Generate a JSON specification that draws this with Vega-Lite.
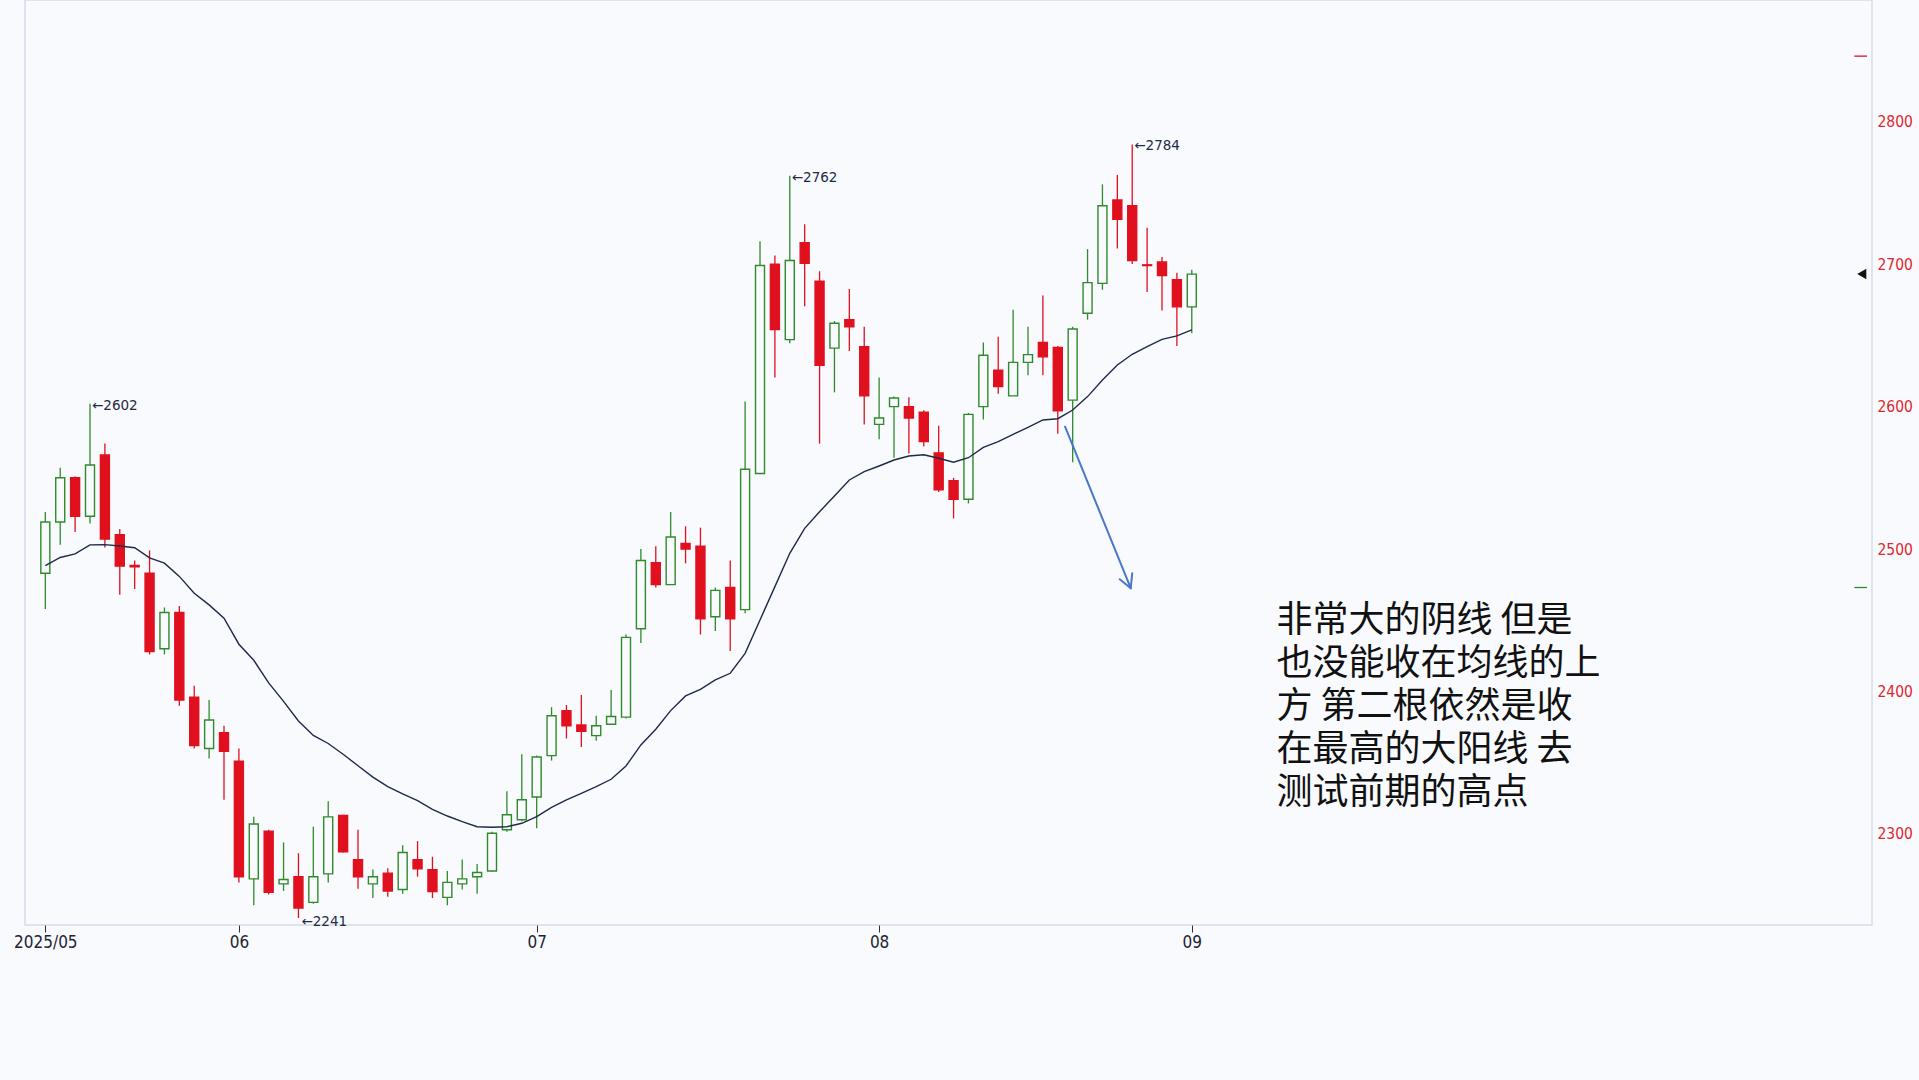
{
  "$schema": "https://vega.github.io/schema/vega-lite/v6.json",
  "width": 1847,
  "height": 925,
  "autosize": {"type": "none"},
  "padding": {"left": 25, "top": 0, "right": 47, "bottom": 155},
  "background": "#f8fafd",
  "config": {
    "view": {"fill": "#f8fafd", "stroke": "#d3dbec", "strokeWidth": 1.5},
    "axis": {"grid": false, "title": null, "domain": false},
    "axisX": {"ticks": true, "tickColor": "#2a2f3a", "tickSize": 7, "tickWidth": 1, "labelFont": "DejaVu Sans Condensed, Noto Sans", "labelFontSize": 17, "labelColor": "#1e2433", "labelPadding": 2},
    "axisY": {"ticks": false, "labelFont": "DejaVu Sans Condensed, Noto Sans", "labelFontSize": 15.5, "labelColor": "#e0262e", "labelPadding": 5}
  },
  "datasets": {
    "k": [
      {"d": "2025-05-14", "o": 2483, "h": 2526, "l": 2458, "c": 2519, "ma": 2488.3},
      {"d": "2025-05-15", "o": 2519, "h": 2557, "l": 2503, "c": 2550, "ma": 2494.1},
      {"d": "2025-05-16", "o": 2550, "h": 2551, "l": 2512, "c": 2523, "ma": 2496.6},
      {"d": "2025-05-19", "o": 2523, "h": 2602, "l": 2518, "c": 2559, "ma": 2502.9},
      {"d": "2025-05-20", "o": 2566, "h": 2574, "l": 2501, "c": 2507, "ma": 2503.1},
      {"d": "2025-05-21", "o": 2510, "h": 2514, "l": 2468, "c": 2488, "ma": 2502.1},
      {"d": "2025-05-22", "o": 2488.5, "h": 2492, "l": 2472, "c": 2487.5, "ma": 2500.9},
      {"d": "2025-05-23", "o": 2483, "h": 2499, "l": 2426, "c": 2428, "ma": 2493.8},
      {"d": "2025-05-26", "o": 2430, "h": 2459, "l": 2426, "c": 2455.5, "ma": 2490.1},
      {"d": "2025-05-27", "o": 2455.5, "h": 2460, "l": 2390, "c": 2394, "ma": 2480.8},
      {"d": "2025-05-28", "o": 2396, "h": 2404, "l": 2360, "c": 2362, "ma": 2469.0},
      {"d": "2025-05-29", "o": 2360, "h": 2394, "l": 2353, "c": 2380, "ma": 2460.8},
      {"d": "2025-05-30", "o": 2371, "h": 2376, "l": 2324, "c": 2358, "ma": 2451.5},
      {"d": "2025-06-03", "o": 2351, "h": 2360, "l": 2266, "c": 2270, "ma": 2433.2},
      {"d": "2025-06-04", "o": 2268.5, "h": 2312, "l": 2250, "c": 2307, "ma": 2421.9},
      {"d": "2025-06-05", "o": 2302, "h": 2303, "l": 2257.5, "c": 2259, "ma": 2406.1},
      {"d": "2025-06-06", "o": 2265, "h": 2294, "l": 2260, "c": 2268, "ma": 2393.1},
      {"d": "2025-06-09", "o": 2270, "h": 2286.5, "l": 2241, "c": 2248, "ma": 2379.3},
      {"d": "2025-06-10", "o": 2252, "h": 2305, "l": 2251, "c": 2270, "ma": 2369.2},
      {"d": "2025-06-11", "o": 2272, "h": 2323, "l": 2266, "c": 2312, "ma": 2363.5},
      {"d": "2025-06-12", "o": 2313, "h": 2313.5, "l": 2287, "c": 2287.5, "ma": 2356.0},
      {"d": "2025-06-13", "o": 2282, "h": 2303, "l": 2261.5, "c": 2270, "ma": 2347.9},
      {"d": "2025-06-16", "o": 2265, "h": 2275, "l": 2255, "c": 2270, "ma": 2339.9},
      {"d": "2025-06-17", "o": 2272.5, "h": 2276, "l": 2256, "c": 2260, "ma": 2333.3},
      {"d": "2025-06-18", "o": 2261, "h": 2292, "l": 2258, "c": 2287, "ma": 2328.2},
      {"d": "2025-06-19", "o": 2282, "h": 2295, "l": 2270, "c": 2275.5, "ma": 2323.4},
      {"d": "2025-06-20", "o": 2275, "h": 2284, "l": 2255, "c": 2259.5, "ma": 2317.3},
      {"d": "2025-06-23", "o": 2255.5, "h": 2274, "l": 2250, "c": 2266, "ma": 2312.6},
      {"d": "2025-06-24", "o": 2265, "h": 2282, "l": 2261, "c": 2268.5, "ma": 2308.7},
      {"d": "2025-06-25", "o": 2270, "h": 2279, "l": 2258, "c": 2273, "ma": 2305.1},
      {"d": "2025-06-26", "o": 2274, "h": 2301.5, "l": 2273.5, "c": 2300.5, "ma": 2304.7},
      {"d": "2025-06-27", "o": 2303, "h": 2330, "l": 2301.5, "c": 2313.5, "ma": 2305.1},
      {"d": "2025-06-30", "o": 2310, "h": 2356, "l": 2309, "c": 2324, "ma": 2307.5},
      {"d": "2025-07-01", "o": 2326, "h": 2355, "l": 2304, "c": 2354, "ma": 2312.2},
      {"d": "2025-07-02", "o": 2355, "h": 2389, "l": 2351.5, "c": 2383, "ma": 2318.7},
      {"d": "2025-07-03", "o": 2386.5, "h": 2390.5, "l": 2367, "c": 2376, "ma": 2323.9},
      {"d": "2025-07-04", "o": 2376.5, "h": 2397.5, "l": 2361, "c": 2372, "ma": 2328.5},
      {"d": "2025-07-07", "o": 2369, "h": 2383, "l": 2365.5, "c": 2376, "ma": 2333.2},
      {"d": "2025-07-08", "o": 2377, "h": 2401, "l": 2376.5, "c": 2382.5, "ma": 2338.4},
      {"d": "2025-07-09", "o": 2382, "h": 2440, "l": 2381, "c": 2438, "ma": 2347.7},
      {"d": "2025-07-10", "o": 2444, "h": 2500, "l": 2434, "c": 2492, "ma": 2362.5},
      {"d": "2025-07-11", "o": 2490.5, "h": 2502, "l": 2473, "c": 2475, "ma": 2373.5},
      {"d": "2025-07-14", "o": 2475, "h": 2526, "l": 2475, "c": 2508.5, "ma": 2386.6},
      {"d": "2025-07-15", "o": 2504, "h": 2516, "l": 2490, "c": 2500, "ma": 2396.9},
      {"d": "2025-07-16", "o": 2502, "h": 2515, "l": 2440, "c": 2451, "ma": 2401.5},
      {"d": "2025-07-17", "o": 2452.5, "h": 2473, "l": 2442.5, "c": 2471, "ma": 2408.1},
      {"d": "2025-07-18", "o": 2473, "h": 2492, "l": 2428.5, "c": 2451, "ma": 2412.8},
      {"d": "2025-07-21", "o": 2457.5, "h": 2603.5, "l": 2455, "c": 2556, "ma": 2426.8},
      {"d": "2025-07-22", "o": 2553, "h": 2716, "l": 2552.5, "c": 2699, "ma": 2450.2},
      {"d": "2025-07-23", "o": 2700, "h": 2706, "l": 2620.5, "c": 2654, "ma": 2473.6},
      {"d": "2025-07-24", "o": 2647, "h": 2762, "l": 2644.5, "c": 2702.5, "ma": 2497.0},
      {"d": "2025-07-25", "o": 2715, "h": 2728, "l": 2670.5, "c": 2700.5, "ma": 2514.5},
      {"d": "2025-07-28", "o": 2688, "h": 2695, "l": 2574, "c": 2629, "ma": 2526.2},
      {"d": "2025-07-29", "o": 2641, "h": 2660, "l": 2610, "c": 2658.5, "ma": 2537.2},
      {"d": "2025-07-30", "o": 2661, "h": 2682.5, "l": 2639, "c": 2656, "ma": 2548.5},
      {"d": "2025-07-31", "o": 2642, "h": 2656, "l": 2587.5, "c": 2607.5, "ma": 2554.3},
      {"d": "2025-08-01", "o": 2587.5, "h": 2620.5, "l": 2577, "c": 2592, "ma": 2558.3},
      {"d": "2025-08-04", "o": 2600, "h": 2607, "l": 2564, "c": 2606, "ma": 2562.5},
      {"d": "2025-08-05", "o": 2600, "h": 2606.5, "l": 2567, "c": 2592, "ma": 2565.3},
      {"d": "2025-08-06", "o": 2596, "h": 2597.5, "l": 2572, "c": 2575.5, "ma": 2566.2},
      {"d": "2025-08-07", "o": 2567.5, "h": 2586.5, "l": 2540, "c": 2541.5, "ma": 2563.7},
      {"d": "2025-08-08", "o": 2548, "h": 2550, "l": 2521.5, "c": 2535, "ma": 2560.9},
      {"d": "2025-08-11", "o": 2535, "h": 2595.5, "l": 2532, "c": 2594.5, "ma": 2564.1},
      {"d": "2025-08-12", "o": 2600, "h": 2645, "l": 2591, "c": 2636, "ma": 2571.4},
      {"d": "2025-08-13", "o": 2625.5, "h": 2649, "l": 2609, "c": 2614, "ma": 2575.4},
      {"d": "2025-08-14", "o": 2607.5, "h": 2668, "l": 2607.5, "c": 2631, "ma": 2580.5},
      {"d": "2025-08-15", "o": 2631, "h": 2656, "l": 2622, "c": 2636.5, "ma": 2585.4},
      {"d": "2025-08-18", "o": 2645, "h": 2678, "l": 2622, "c": 2635, "ma": 2590.6},
      {"d": "2025-08-19", "o": 2641.5, "h": 2642.5, "l": 2581, "c": 2597, "ma": 2591.5},
      {"d": "2025-08-20", "o": 2604.5, "h": 2656, "l": 2561, "c": 2654.5, "ma": 2597.6},
      {"d": "2025-08-21", "o": 2665.5, "h": 2710.5, "l": 2661, "c": 2687, "ma": 2607.0},
      {"d": "2025-08-22", "o": 2686.5, "h": 2756, "l": 2682, "c": 2741, "ma": 2618.7},
      {"d": "2025-08-25", "o": 2745, "h": 2762.5, "l": 2711, "c": 2731.5, "ma": 2629.2},
      {"d": "2025-08-26", "o": 2741, "h": 2784, "l": 2700, "c": 2702.5, "ma": 2636.7},
      {"d": "2025-08-27", "o": 2699.5, "h": 2725.5, "l": 2680.5, "c": 2699, "ma": 2642.1},
      {"d": "2025-08-28", "o": 2701.5, "h": 2705, "l": 2667.5, "c": 2692, "ma": 2647.2},
      {"d": "2025-08-29", "o": 2689, "h": 2694, "l": 2642.5, "c": 2670, "ma": 2649.6},
      {"d": "2025-09-01", "o": 2670, "h": 2696, "l": 2651.5, "c": 2693, "ma": 2653.8}
    ],
    "arrow": [
      {"n": 69.49, "p": 2585.9, "n2": 73.9, "p2": 2472.5},
      {"n": 73.16, "p": 2478.8, "n2": 73.9, "p2": 2472.5},
      {"n": 74.0, "p": 2483.0, "n2": 73.9, "p2": 2472.5}
    ],
    "note": [
      {"n": 83.69, "p": 2461.7, "t": "非常大的阴线 但是\n也没能收在均线的上\n方 第二根依然是收\n在最高的大阳线 去\n测试前期的高点"}
    ],
    "lim": [
      {"n": 122.5, "n2": 123.35, "p": 2846, "k": "涨停"},
      {"n": 122.5, "n2": 123.35, "p": 2473, "k": "跌停"}
    ],
    "last": [
      {"n": 123.0, "p": 2693}
    ]
  },
  "layer": [
    {
      "data": {"name": "k"},
      "transform": [{"window": [{"op": "row_number", "as": "n"}], "sort": [{"field": "d"}]}],
      "layer": [
        {
          "mark": {"type": "rule", "strokeWidth": 1.3},
          "encoding": {
            "x": {"field": "n", "type": "quantitative", "scale": {"domain": [-0.03, 123.35], "nice": false, "zero": false},
                  "axis": {"values": [1, 14, 34, 57, 78], "labelExpr": "datum.value == 1 ? '2025/05' : datum.value == 14 ? '06' : datum.value == 34 ? '07' : datum.value == 57 ? '08' : '09'"}},
            "y": {"field": "l", "type": "quantitative", "scale": {"domain": [2236.1, 2885.4], "nice": false, "zero": false},
                  "axis": {"orient": "right", "format": "d", "values": [2300, 2400, 2500, 2600, 2700, 2800]}},
            "y2": {"field": "h"},
            "color": {"condition": {"test": "datum.c >= datum.o", "value": "#2f8a2a"}, "value": "#e0101e"}
          }
        },
        {
          "mark": {"type": "bar", "size": 9, "strokeWidth": 1.4},
          "encoding": {
            "x": {"field": "n", "type": "quantitative"},
            "y": {"field": "o", "type": "quantitative"},
            "y2": {"field": "c"},
            "fill": {"condition": {"test": "datum.c >= datum.o", "value": "#f8fafd"}, "value": "#e0101e"},
            "stroke": {"condition": {"test": "datum.c >= datum.o", "value": "#2f8a2a"}, "value": "#e0101e"}
          }
        },
        {
          "mark": {"type": "line", "color": "#1d2a48", "strokeWidth": 1.4},
          "encoding": {
            "x": {"field": "n", "type": "quantitative"},
            "y": {"field": "ma", "type": "quantitative"}
          }
        },
        {
          "transform": [
            {"filter": {"field": "d", "oneOf": ["2025-05-19", "2025-07-24", "2025-08-26"]}},
            {"calculate": "'←' + datum.h", "as": "lab"}
          ],
          "mark": {"type": "text", "align": "left", "baseline": "middle", "dx": 2, "dy": 2, "font": "DejaVu Sans", "fontSize": 13.5, "color": "#1f2a44"},
          "encoding": {
            "x": {"field": "n", "type": "quantitative"},
            "y": {"field": "h", "type": "quantitative"},
            "text": {"field": "lab"}
          }
        },
        {
          "transform": [
            {"filter": {"field": "d", "equal": "2025-06-09"}},
            {"calculate": "'←' + datum.l", "as": "lab"}
          ],
          "mark": {"type": "text", "align": "left", "baseline": "middle", "dx": 3, "dy": 4, "font": "DejaVu Sans", "fontSize": 13.5, "color": "#1f2a44"},
          "encoding": {
            "x": {"field": "n", "type": "quantitative"},
            "y": {"field": "l", "type": "quantitative"},
            "text": {"field": "lab"}
          }
        }
      ]
    },
    {
      "data": {"name": "arrow"},
      "mark": {"type": "rule", "color": "#4a78c8", "strokeWidth": 2, "strokeCap": "round"},
      "encoding": {
        "x": {"field": "n", "type": "quantitative"},
        "y": {"field": "p", "type": "quantitative"},
        "x2": {"field": "n2"},
        "y2": {"field": "p2"}
      }
    },
    {
      "data": {"name": "note"},
      "mark": {"type": "text", "align": "left", "baseline": "top", "lineBreak": "\n", "lineHeight": 43, "font": "Noto Sans CJK SC", "fontSize": 36, "color": "#111111"},
      "encoding": {
        "x": {"field": "n", "type": "quantitative"},
        "y": {"field": "p", "type": "quantitative"},
        "text": {"field": "t"}
      }
    },
    {
      "data": {"name": "lim"},
      "mark": {"type": "rule", "strokeWidth": 1.3},
      "encoding": {
        "x": {"field": "n", "type": "quantitative"},
        "x2": {"field": "n2"},
        "y": {"field": "p", "type": "quantitative"},
        "color": {"field": "k", "type": "nominal", "scale": {"domain": ["涨停", "跌停"], "range": ["#e0101e", "#2f8a2a"]}, "legend": null}
      }
    },
    {
      "data": {"name": "last"},
      "mark": {"type": "point", "shape": "triangle-left", "filled": true, "size": 110, "color": "#111111", "opacity": 1},
      "encoding": {
        "x": {"field": "n", "type": "quantitative"},
        "y": {"field": "p", "type": "quantitative"}
      }
    }
  ]
}
